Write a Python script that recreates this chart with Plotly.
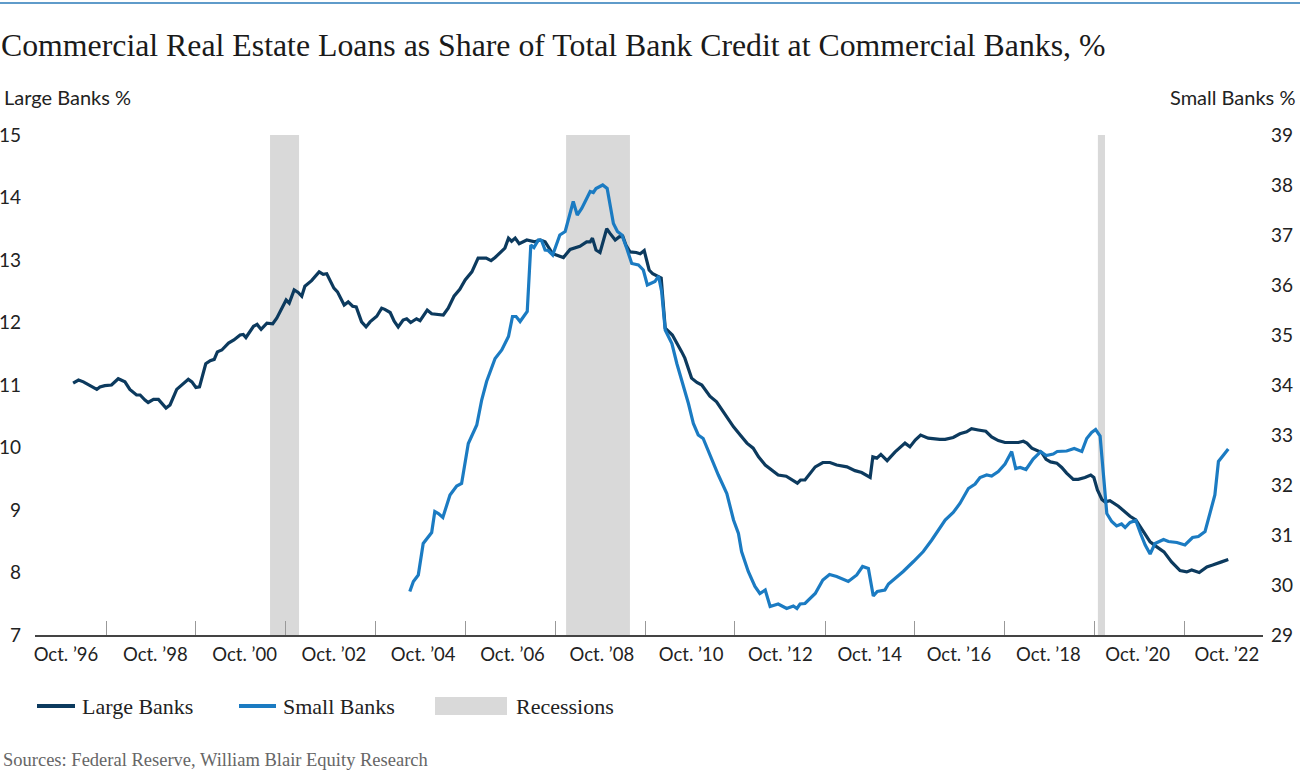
import plotly.graph_objects as go

# ---------------- data ----------------
large_x = [
    1996.91, 1997.03, 1997.14, 1997.29, 1997.36, 1997.44, 1997.51, 1997.62, 1997.77, 1997.92,
    1998.07, 1998.18, 1998.33, 1998.41, 1998.52, 1998.59, 1998.71, 1998.82, 1998.99, 1999.08,
    1999.23, 1999.38, 1999.49, 1999.57, 1999.66, 1999.74, 1999.88, 1999.98, 2000.07, 2000.14,
    2000.24, 2000.39, 2000.51, 2000.65, 2000.72, 2000.78, 2000.95, 2001.03, 2001.12, 2001.25,
    2001.38, 2001.47, 2001.56, 2001.68, 2001.75, 2001.86, 2001.95, 2002.03, 2002.10, 2002.25,
    2002.42, 2002.51, 2002.59, 2002.75, 2002.83, 2002.98, 2003.07, 2003.17, 2003.25, 2003.37,
    2003.47, 2003.56, 2003.71, 2003.82, 2003.89, 2004.01, 2004.10, 2004.19, 2004.30, 2004.38,
    2004.47, 2004.60, 2004.68, 2004.84, 2004.94, 2005.20, 2005.31, 2005.44, 2005.57, 2005.69,
    2005.84, 2005.98, 2006.16, 2006.27, 2006.36, 2006.47, 2006.58, 2006.66, 2006.73, 2006.81,
    2006.90, 2007.07, 2007.25, 2007.37, 2007.48, 2007.65, 2007.89, 2008.04, 2008.15, 2008.26,
    2008.41, 2008.49, 2008.54, 2008.62, 2008.71, 2008.86, 2008.93, 2009.05, 2009.14, 2009.22,
    2009.29, 2009.38, 2009.52, 2009.61, 2009.70, 2009.81, 2009.89, 2010.02, 2010.08, 2010.17,
    2010.33, 2010.54, 2010.61, 2010.76, 2010.88, 2010.99, 2011.17, 2011.32, 2011.51, 2011.70,
    2011.85, 2012.00, 2012.14, 2012.26, 2012.41, 2012.56, 2012.70, 2012.88, 2013.00, 2013.13,
    2013.20, 2013.30, 2013.53, 2013.70, 2013.86, 2014.01, 2014.24, 2014.42, 2014.57, 2014.76,
    2014.82, 2014.91, 2015.00, 2015.14, 2015.32, 2015.54, 2015.65, 2015.77, 2015.89, 2016.06,
    2016.32, 2016.44, 2016.62, 2016.77, 2016.92, 2017.03, 2017.18, 2017.35, 2017.48, 2017.63,
    2017.78, 2018.08, 2018.19, 2018.27, 2018.38, 2018.49, 2018.60, 2018.70, 2018.80, 2018.94,
    2019.05, 2019.16, 2019.31, 2019.42, 2019.57, 2019.70, 2019.77, 2019.85, 2019.95, 2020.02,
    2020.13, 2020.32, 2020.45, 2020.58, 2020.71, 2020.86, 2021.03, 2021.18, 2021.34, 2021.51,
    2021.70, 2021.85, 2021.96, 2022.13, 2022.30, 2022.43, 2022.56, 2022.63, 2022.78,
]
large_banks = [
    11.03, 11.08, 11.05, 10.99, 10.97, 10.93, 10.97, 10.99, 11.00, 11.10,
    11.05, 10.93, 10.84, 10.84, 10.76, 10.72, 10.77, 10.77, 10.63, 10.68,
    10.93, 11.02, 11.09, 11.05, 10.96, 10.97, 11.34, 11.39, 11.41, 11.53,
    11.56, 11.67, 11.72, 11.80, 11.81, 11.76, 11.94, 11.97, 11.89, 11.99,
    11.98, 12.07, 12.20, 12.36, 12.31, 12.52, 12.48, 12.42, 12.58, 12.67,
    12.81, 12.77, 12.78, 12.55, 12.49, 12.28, 12.33, 12.26, 12.25, 12.01,
    11.93, 12.01, 12.10, 12.23, 12.21, 12.16, 12.02, 11.93, 12.04, 12.06,
    12.00, 12.06, 12.03, 12.20, 12.14, 12.12, 12.23, 12.42, 12.53, 12.68,
    12.81, 13.03, 13.03, 12.99, 13.04, 13.12, 13.19, 13.35, 13.30, 13.35,
    13.26, 13.32, 13.29, 13.32, 13.29, 13.10, 13.04, 13.17, 13.19, 13.22,
    13.29, 13.29, 13.35, 13.16, 13.12, 13.50, 13.43, 13.32, 13.37, 13.38,
    13.24, 13.13, 13.12, 13.10, 13.15, 12.84, 12.78, 12.74, 12.71, 11.91,
    11.80, 11.53, 11.43, 11.11, 11.04, 11.00, 10.82, 10.73, 10.52, 10.33,
    10.20, 10.07, 9.99, 9.85, 9.72, 9.64, 9.56, 9.54, 9.48, 9.43,
    9.48, 9.48, 9.69, 9.76, 9.76, 9.72, 9.69, 9.63, 9.60, 9.52,
    9.85, 9.83, 9.89, 9.79, 9.93, 10.07, 10.01, 10.12, 10.20, 10.15,
    10.13, 10.13, 10.16, 10.22, 10.25, 10.30, 10.28, 10.26, 10.17, 10.11,
    10.08, 10.08, 10.10, 10.07, 9.99, 9.96, 9.92, 9.81, 9.77, 9.75,
    9.68, 9.59, 9.49, 9.49, 9.52, 9.56, 9.52, 9.32, 9.17, 9.13,
    9.15, 9.06, 8.98, 8.90, 8.84, 8.68, 8.49, 8.41, 8.33, 8.17,
    8.03, 8.01, 8.04, 8.00, 8.09, 8.12, 8.16, 8.17, 8.21,
]

small_x = [
    2004.45, 2004.53, 2004.64, 2004.75, 2004.94, 2005.01, 2005.09, 2005.19, 2005.35, 2005.50,
    2005.61, 2005.76, 2005.95, 2006.06, 2006.17, 2006.36, 2006.51, 2006.66, 2006.75, 2006.83,
    2006.92, 2007.08, 2007.16, 2007.23, 2007.33, 2007.40, 2007.48, 2007.55, 2007.65, 2007.72,
    2007.81, 2007.93, 2008.11, 2008.20, 2008.30, 2008.49, 2008.56, 2008.62, 2008.77, 2008.87,
    2008.93, 2009.01, 2009.10, 2009.20, 2009.31, 2009.42, 2009.57, 2009.68, 2009.77, 2009.94,
    2010.02, 2010.09, 2010.17, 2010.32, 2010.43, 2010.58, 2010.69, 2010.80, 2010.91, 2011.02,
    2011.21, 2011.36, 2011.55, 2011.70, 2011.81, 2011.88, 2012.03, 2012.18, 2012.29, 2012.41,
    2012.52, 2012.70, 2012.89, 2013.04, 2013.12, 2013.19, 2013.30, 2013.53, 2013.70, 2013.85,
    2014.01, 2014.27, 2014.46, 2014.59, 2014.72, 2014.83, 2014.92, 2015.09, 2015.17, 2015.32,
    2015.50, 2015.73, 2015.95, 2016.14, 2016.32, 2016.44, 2016.62, 2016.77, 2016.96, 2017.11,
    2017.22, 2017.37, 2017.48, 2017.63, 2017.78, 2017.93, 2018.02, 2018.12, 2018.25, 2018.41,
    2018.58, 2018.70, 2018.86, 2018.95, 2019.16, 2019.33, 2019.50, 2019.61, 2019.72, 2019.81,
    2019.91, 2019.97, 2020.06, 2020.17, 2020.28, 2020.39, 2020.47, 2020.58, 2020.71, 2020.82,
    2020.92, 2021.03, 2021.14, 2021.33, 2021.44, 2021.63, 2021.81, 2021.98, 2022.11, 2022.26,
    2022.36, 2022.48, 2022.56, 2022.67, 2022.78,
]
small_banks = [
    29.87, 30.07, 30.20, 30.83, 31.05, 31.47, 31.43, 31.35, 31.80, 31.98,
    32.03, 32.83, 33.20, 33.70, 34.07, 34.53, 34.70, 34.97, 35.37, 35.37,
    35.27, 35.47, 36.80, 36.75, 36.90, 36.89, 36.70, 36.69, 36.60, 36.77,
    37.00, 37.07, 37.67, 37.40, 37.53, 37.87, 37.85, 37.93, 38.00, 37.93,
    37.60, 37.23, 37.07, 37.00, 36.73, 36.43, 36.40, 36.30, 36.00, 36.07,
    36.18, 35.87, 35.10, 34.83, 34.43, 33.97, 33.63, 33.23, 33.00, 32.93,
    32.50, 32.20, 31.83, 31.30, 31.03, 30.67, 30.27, 29.97, 29.83, 29.90,
    29.57, 29.62, 29.53, 29.58, 29.53, 29.62, 29.63, 29.83, 30.10, 30.21,
    30.17, 30.07, 30.20, 30.37, 30.33, 29.78, 29.87, 29.90, 30.02, 30.13,
    30.27, 30.47, 30.67, 30.90, 31.15, 31.30, 31.45, 31.63, 31.93, 32.02,
    32.15, 32.20, 32.18, 32.27, 32.42, 32.67, 32.33, 32.35, 32.31, 32.52,
    32.67, 32.59, 32.62, 32.67, 32.68, 32.73, 32.67, 32.93, 33.05, 33.11,
    32.98, 32.30, 31.43, 31.27, 31.18, 31.22, 31.15, 31.25, 31.29, 31.02,
    30.80, 30.62, 30.83, 30.91, 30.87, 30.85, 30.80, 30.95, 30.97, 31.07,
    31.43, 31.80, 32.47, 32.60, 32.72,
]

recession_start = [2001.32, 2007.95, 2019.86]
recession_end = [2001.97, 2009.38, 2020.02]

tick_label_pos = [1996.75, 1998.75, 2000.75, 2002.75, 2004.75, 2006.75, 2008.75,
                  2010.75, 2012.75, 2014.75, 2016.75, 2018.75, 2020.75, 2022.75]
tick_labels = ["Oct. ’96", "Oct. ’98", "Oct. ’00", "Oct. ’02", "Oct. ’04", "Oct. ’06", "Oct. ’08",
               "Oct. ’10", "Oct. ’12", "Oct. ’14", "Oct. ’16", "Oct. ’18", "Oct. ’20", "Oct. ’22"]
tick_mark_pos = [1997.65, 1999.66, 2001.67, 2003.68, 2005.70, 2007.71, 2009.72,
                 2011.73, 2013.75, 2015.76, 2017.77, 2019.78, 2021.80]

# ---------------- styling ----------------
LARGE_C = "#0c3a5e"
SMALL_C = "#1b7bc2"
REC_C = "#d9d9d9"
SANS = "Lato, 'Open Sans', sans-serif"
SERIF = "'Liberation Serif', 'DejaVu Serif', serif"

W, H = 1300, 783
L, R, T, B = 35, 37, 135, 148
PW, PH = W - L - R, H - T - B


def px_x(px):
    return (px - L) / PW


def px_y(py):
    return (H - B - py) / PH


fig = go.Figure()

fig.add_trace(go.Scatter(x=large_x, y=large_banks, mode="lines", name="Large Banks",
                         line=dict(color=LARGE_C, width=3.2), yaxis="y", showlegend=False))
fig.add_trace(go.Scatter(x=small_x, y=small_banks, mode="lines", name="Small Banks",
                         line=dict(color=SMALL_C, width=3.2), yaxis="y2", showlegend=False))

shapes = []
for s, e in zip(recession_start, recession_end):
    shapes.append(dict(type="rect", xref="x", yref="paper", x0=s, x1=e, y0=0, y1=1,
                       fillcolor=REC_C, line=dict(width=0), layer="below"))

# top rule
shapes.append(dict(type="line", xref="paper", yref="paper", x0=px_x(0), x1=px_x(W),
                   y0=px_y(3), y1=px_y(3), line=dict(color="#2a7ab8", width=1.5)))
# legend samples
shapes.append(dict(type="line", xref="paper", yref="paper", x0=px_x(37), x1=px_x(75),
                   y0=px_y(706), y1=px_y(706), line=dict(color=LARGE_C, width=4)))
shapes.append(dict(type="line", xref="paper", yref="paper", x0=px_x(239), x1=px_x(276),
                   y0=px_y(706), y1=px_y(706), line=dict(color=SMALL_C, width=4)))
shapes.append(dict(type="rect", xref="paper", yref="paper", x0=px_x(435), x1=px_x(507),
                   y0=px_y(715), y1=px_y(697), fillcolor=REC_C, line=dict(width=0)))

annotations = [
    dict(text="Large Banks %", xref="paper", yref="paper", x=px_x(2), y=px_y(97),
         xanchor="left", yanchor="middle", showarrow=False,
         font=dict(family=SANS, size=20, color="#222")),
    dict(text="Small Banks %", xref="paper", yref="paper", x=px_x(1297), y=px_y(97),
         xanchor="right", yanchor="middle", showarrow=False,
         font=dict(family=SANS, size=20, color="#222")),
    dict(text="Large Banks", xref="paper", yref="paper", x=px_x(80), y=px_y(706),
         xanchor="left", yanchor="middle", showarrow=False,
         font=dict(family=SERIF, size=22, color="#222")),
    dict(text="Small Banks", xref="paper", yref="paper", x=px_x(281), y=px_y(706),
         xanchor="left", yanchor="middle", showarrow=False,
         font=dict(family=SERIF, size=22, color="#222")),
    dict(text="Recessions", xref="paper", yref="paper", x=px_x(514), y=px_y(706),
         xanchor="left", yanchor="middle", showarrow=False,
         font=dict(family=SERIF, size=22, color="#222")),
    dict(text="Sources: Federal Reserve, William Blair Equity Research", xref="paper", yref="paper",
         x=px_x(1), y=px_y(760), xanchor="left", yanchor="middle", showarrow=False,
         font=dict(family=SERIF, size=18.5, color="#666")),
]

fig.update_layout(
    width=W, height=H,
    margin=dict(l=L, r=R, t=T, b=B, autoexpand=False),
    paper_bgcolor="white", plot_bgcolor="white",
    title=dict(text="Commercial Real Estate Loans as Share of Total Bank Credit at Commercial Banks, %",
               xref="container", yref="container", x=1 / W, y=1 - 45 / H,
               xanchor="left", yanchor="middle",
               font=dict(family=SERIF, size=31.8, color="#1a1a1a")),
    xaxis=dict(range=[1996.056, 2023.558], showgrid=False, zeroline=False, automargin=False,
               showline=True, linecolor="#444", linewidth=1.5,
               tickmode="array", tickvals=tick_label_pos, ticktext=tick_labels,
               ticks="", ticklabelstandoff=2,
               tickfont=dict(family=SANS, size=18.5, color="#222"),
               minor=dict(tickmode="array", tickvals=tick_mark_pos, ticks="inside",
                          ticklen=14, tickwidth=1, tickcolor="#999", showgrid=False)),
    yaxis=dict(range=[7, 15], dtick=1, showgrid=False, zeroline=False, showline=False,
               automargin=False, ticks="", ticklabelstandoff=13,
               tickfont=dict(family=SANS, size=19, color="#222")),
    yaxis2=dict(range=[29, 39], dtick=1, overlaying="y", side="right", showgrid=False,
                automargin=False, zeroline=False, showline=False, ticks="", ticklabelstandoff=7,
                tickfont=dict(family=SANS, size=19, color="#222")),
    shapes=shapes,
    annotations=annotations,
    showlegend=False,
)

fig.write_html("out.html", config={"displayModeBar": False},
               post_script="document.body.style.margin='0';")
